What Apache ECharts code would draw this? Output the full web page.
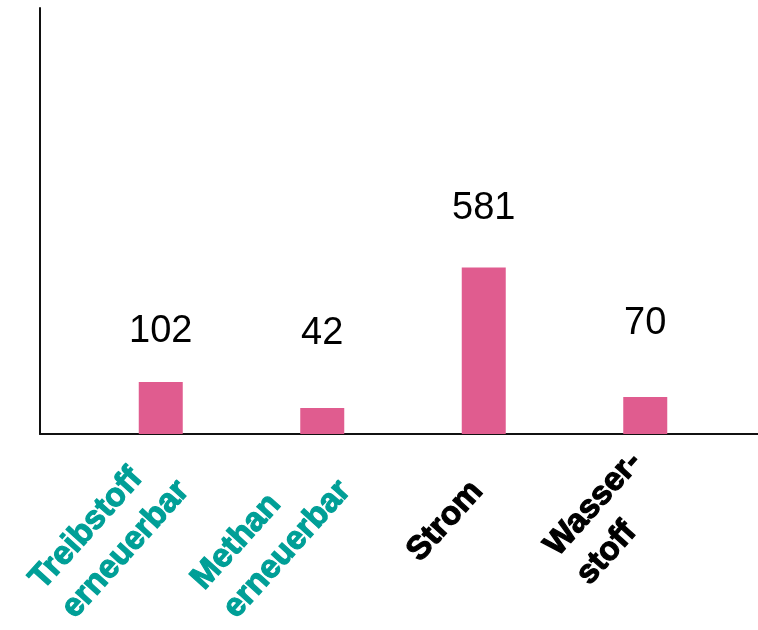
<!DOCTYPE html>
<html>
<head>
<meta charset="utf-8">
<script src="https://cdn.jsdelivr.net/npm/echarts@6/dist/echarts.min.js"></script>
<style>
  html, body { margin: 0; padding: 0; background: #fff; }
  #chart { width: 758px; height: 630px; }
</style>
</head>
<body>
<div id="chart"></div>
<script>
// categories as shown under the axis
var categories = ['Treibstoff\nerneuerbar', 'Methan\nerneuerbar', 'Strom', 'Wasser-\nstoff'];
// numbers printed above the bars
var labelValues = [102, 42, 581, 70];
// drawn bar heights (hidden axis 0..1500)
var barValues = [181, 91, 581, 129];
// height of the printed numbers on the same hidden axis
var labelLevels = [358, 352, 785, 384];
// which categories are the renewable ones (teal labels)
var renewable = [true, true, false, false];

var FONT = '"Liberation Sans", Arial, sans-serif';
var myChart = echarts.init(document.getElementById('chart'));

var labelStyle = {
  fontFamily: FONT,
  fontWeight: 'bold',
  fontSize: 33,
  lineHeight: 43,
  align: 'left',
  textBorderWidth: 1.2
};

// category labels, single-line ones sit a bit further down the slope
var xData = categories.map(function (c) {
  var single = c.indexOf('\n') < 0;
  return { value: c, textStyle: { padding: single ? [18, 20, 0, 0] : [18, 0, 0, 0] } };
});

var option = {
  animation: false,
  backgroundColor: '#fff',
  grid: [
    { left: 80, right: 32, top: 4, bottom: 196, outerBoundsMode: 'none' },
    { left: 40, right: 0, top: 8, bottom: 196, outerBoundsMode: 'none' }
  ],
  xAxis: [
    {
      type: 'category',
      gridIndex: 0,
      data: xData,
      axisLine: { show: false },
      axisTick: { show: false },
      axisLabel: {
        interval: 0,
        rotate: 48,
        margin: 31,
        formatter: function (value, index) {
          var key = renewable[index] ? 't' : 'k';
          return value.split('\n').map(function (line) {
            return '{' + key + '|' + line + '}';
          }).join('\n');
        },
        rich: {
          t: Object.assign({ color: '#009f97', textBorderColor: '#009f97' }, labelStyle),
          k: Object.assign({ color: '#000', textBorderColor: '#000' }, labelStyle)
        }
      }
    },
    {
      type: 'value',
      gridIndex: 1,
      min: 0, max: 1,
      axisLine: { show: true, lineStyle: { color: '#111', width: 2 } },
      axisTick: { show: false },
      axisLabel: { show: false },
      splitLine: { show: false }
    }
  ],
  yAxis: [
    { type: 'value', gridIndex: 0, min: 0, max: 1500, show: false },
    {
      type: 'value',
      gridIndex: 1,
      min: 0, max: 1,
      axisLine: { show: true, lineStyle: { color: '#111', width: 2 } },
      axisTick: { show: false },
      axisLabel: { show: false },
      splitLine: { show: false }
    }
  ],
  series: [
    {
      type: 'bar',
      xAxisIndex: 0,
      yAxisIndex: 0,
      barWidth: 44,
      data: barValues,
      itemStyle: { color: '#e05c8f' },
      z: 1
    },
    {
      type: 'scatter',
      xAxisIndex: 0,
      yAxisIndex: 0,
      symbolSize: 0,
      itemStyle: { opacity: 1 },
      data: labelLevels,
      label: {
        show: true,
        position: 'inside',
        formatter: function (p) { return '{n|' + labelValues[p.dataIndex] + '}'; },
        rich: {
          n: { fontFamily: FONT, fontSize: 38, color: '#000', textBorderWidth: 0 }
        }
      }
    }
  ]
};

myChart.setOption(option);
</script>
</body>
</html>
